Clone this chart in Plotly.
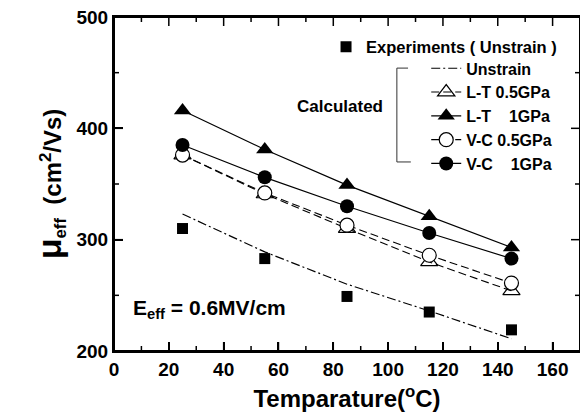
import plotly.graph_objects as go

temps = [25, 55, 85, 115, 145]
exp_unstrain = [310, 283, 249, 235, 219]
calc_unstrain = [323, 289, 260, 236, 211]
lt_05 = [376, 341, 310, 280, 254]
lt_1 = [416, 381, 349, 321, 293]
vc_05 = [376, 342, 313, 286, 261]
vc_1 = [385, 356, 330, 306, 283]

x_major = [0, 20, 40, 60, 80, 100, 120, 140, 160]
x_minor = [10, 30, 50, 70, 90, 110, 130, 150]
y_major = [200, 300, 400, 500]
y_minor = [250, 350, 450]

FONT = "Liberation Sans, Arial, sans-serif"
BLACK = "#000000"
BOLD = "bold"

W, H = 580, 411
ML, MR, MT, MB = 106, 8, 9, 68
PW, PH = W - ML - MR, H - MT - MB

fig = go.Figure()

fig.add_trace(go.Scatter(
    x=temps, y=exp_unstrain, mode="markers", name="Experiments ( Unstrain )",
    marker=dict(symbol="square", size=11, color=BLACK), showlegend=True, legend="legend"))

fig.add_trace(go.Scatter(
    x=temps, y=calc_unstrain, mode="lines", name="Unstrain",
    line=dict(color=BLACK, width=1.2, dash="9px,3px,2px,3px"), legend="legend2"))

fig.add_trace(go.Scatter(
    x=temps, y=lt_05, mode="lines+markers", name="L-T 0.5GPa",
    line=dict(color=BLACK, width=1.1, dash="8px,4px"),
    marker=dict(symbol="triangle-up-open", size=15, color=BLACK, line=dict(width=1.2)),
    legend="legend2"))

fig.add_trace(go.Scatter(
    x=temps, y=lt_1, mode="lines+markers", name="L-T    1GPa",
    line=dict(color=BLACK, width=1.2),
    marker=dict(symbol="triangle-up", size=15, color=BLACK), legend="legend2"))

fig.add_trace(go.Scatter(
    x=temps, y=vc_05, mode="lines+markers", name="V-C 0.5GPa",
    line=dict(color=BLACK, width=1.1, dash="8px,4px"),
    marker=dict(symbol="circle", size=14, color="white", line=dict(width=1.2, color=BLACK)),
    legend="legend2"))

fig.add_trace(go.Scatter(
    x=temps, y=vc_1, mode="lines+markers", name="V-C    1GPa",
    line=dict(color=BLACK, width=1.2),
    marker=dict(symbol="circle", size=14, color=BLACK), legend="legend2"))

tickfont = dict(family=FONT, size=19, color=BLACK, weight=BOLD)

fig.update_xaxes(
    range=[0, 170], tickvals=x_major,
    showline=True, linecolor=BLACK, linewidth=2, mirror=True,
    ticks="inside", ticklen=9, tickwidth=1.5, tickcolor=BLACK,
    showgrid=False, zeroline=False, automargin=False, tickfont=tickfont,
    ticklabeloverflow="allow",
    title=dict(text="Temparature(<sup>o</sup>C)",
               font=dict(family=FONT, size=24, color=BLACK, weight=BOLD), standoff=11))

fig.update_yaxes(
    range=[200, 500], tickvals=y_major,
    showline=True, linecolor=BLACK, linewidth=2, mirror=True,
    ticks="inside", ticklen=9, tickwidth=1.5, tickcolor=BLACK,
    showgrid=False, zeroline=False, automargin=False, tickfont=tickfont,
    ticklabeloverflow="allow",
    title=dict(text="<span style='font-size:34px'>μ</span><sub>eff</sub>  (cm<sup>2</sup>/Vs)",
               font=dict(family=FONT, size=24, color=BLACK, weight=BOLD), standoff=8))

def pline(x0, y0, x1, y1, width=2, color=BLACK):
    return dict(type="line", xref="paper", yref="paper", x0=x0, y0=y0, x1=x1, y1=y1,
                line=dict(color=color, width=width), layer="above")

shapes = [
    # plot frame
    pline(0, 0, 1, 0), pline(0, 1, 1, 1), pline(0, 0, 0, 1), pline(1, 0, 1, 1),
    # legend bracket
    pline(0.607, 0.566, 0.607, 0.847, 1, "#333333"),
    pline(0.607, 0.847, 0.631, 0.847, 1, "#333333"),
    pline(0.607, 0.566, 0.637, 0.566, 1, "#333333"),
]

def xtick(v, length):
    ly = length / PH
    return [dict(type="line", xref="x", x0=v, x1=v, yref="paper", y0=0, y1=ly,
                 line=dict(color=BLACK, width=1.5), layer="above"),
            dict(type="line", xref="x", x0=v, x1=v, yref="paper", y0=1, y1=1 - ly,
                 line=dict(color=BLACK, width=1.5), layer="above")]

def ytick(v, length):
    lx = length / PW
    return [dict(type="line", yref="y", y0=v, y1=v, xref="paper", x0=0, x1=lx,
                 line=dict(color=BLACK, width=1.5), layer="above"),
            dict(type="line", yref="y", y0=v, y1=v, xref="paper", x0=1, x1=1 - lx,
                 line=dict(color=BLACK, width=1.5), layer="above")]

for v in x_major[1:]:
    shapes += xtick(v, 9)
for v in x_minor:
    shapes += xtick(v, 5)
for v in y_major[1:-1]:
    shapes += ytick(v, 9)
for v in y_minor:
    shapes += ytick(v, 5)

fig.update_layout(
    width=W, height=H,
    margin=dict(l=ML, r=MR, t=MT, b=MB),
    paper_bgcolor="white", plot_bgcolor="white",
    font=dict(family=FONT, color=BLACK),
    showlegend=True,
    legend=dict(x=0.455, y=0.91, xanchor="left", yanchor="middle",
                bgcolor="rgba(0,0,0,0)",
                font=dict(family=FONT, size=16.5, color=BLACK, weight=BOLD)),
    legend2=dict(x=0.67, y=0.704, xanchor="left", yanchor="middle",
                 bgcolor="rgba(0,0,0,0)", tracegroupgap=0,
                 font=dict(family=FONT, size=16, color=BLACK, weight=BOLD)),
    shapes=shapes,
    annotations=[
        dict(text="Calculated", xref="paper", yref="paper", x=0.485, y=0.731,
             xanchor="center", yanchor="middle",
             showarrow=False, font=dict(family=FONT, size=17, color=BLACK, weight=BOLD)),
        dict(text="E<sub>eff</sub> = 0.6MV/cm", xref="x", yref="y", x=35, y=238,
             xanchor="center", yanchor="middle",
             showarrow=False, font=dict(family=FONT, size=21, color=BLACK, weight=BOLD)),
    ],
)

fig.write_html("out.html")
